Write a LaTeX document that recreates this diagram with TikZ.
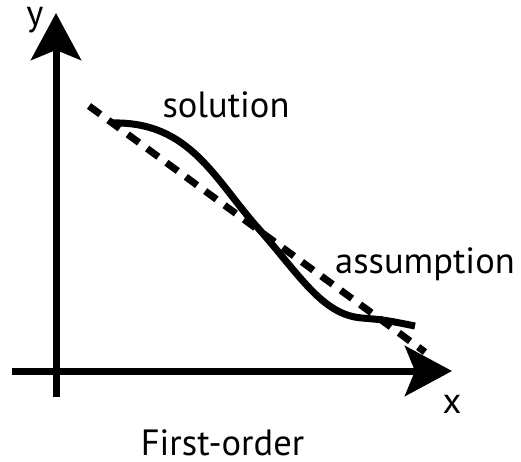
\documentclass[tikz,border=0pt]{standalone}
\usepackage{fontspec}
\setmainfont{PT Sans}
\usetikzlibrary{arrows.meta}

\begin{document}
\begin{tikzpicture}[x=1pt, y=-1pt, font=\fontsize{36.5}{42}\selectfont,
  eje/.style={line width=7pt, -{Stealth[length=47pt, width=50pt, inset=10pt]}},
  curva/.style={line width=7pt},
  recta/.style={line width=7pt, dash pattern=on 14pt off 10pt},
  etiqueta/.style={anchor=base, inner sep=0pt, text depth=0pt}]
\useasboundingbox (0,0) rectangle (521,462);
% ejes
\coordinate (xi) at (12,371); \coordinate (xf) at (452,371);
\coordinate (yi) at (56,397); \coordinate (yf) at (56,13);
\draw[eje] (xi) -- (xf);
\draw[eje] (yi) -- (yf);
% recta supuesta y curva solucion
\coordinate (ri) at (89,106); \coordinate (rf) at (425,352);
\draw[recta] (ri) -- (rf);
\coordinate (ci) at (112,123); \coordinate (cm) at (258,228);
\coordinate (cb) at (362,318); \coordinate (cf) at (415,326);
\draw[curva] (ci) .. controls (190,121) and (215,180) .. (cm)
  .. controls (299,274) and (322,315) .. (cb)
  .. controls (385,320) .. (cf);
% etiquetas
\node[etiqueta] (ly) at (35,26) {y};
\node[etiqueta] (lx) at (452,413) {x};
\node[etiqueta] (sol) at (226,118) {solution};
\node[etiqueta] (sup) at (425,273) {assumption};
\node[etiqueta] (tit) at (222.5,455) {First-order};
\end{tikzpicture}
\end{document}
